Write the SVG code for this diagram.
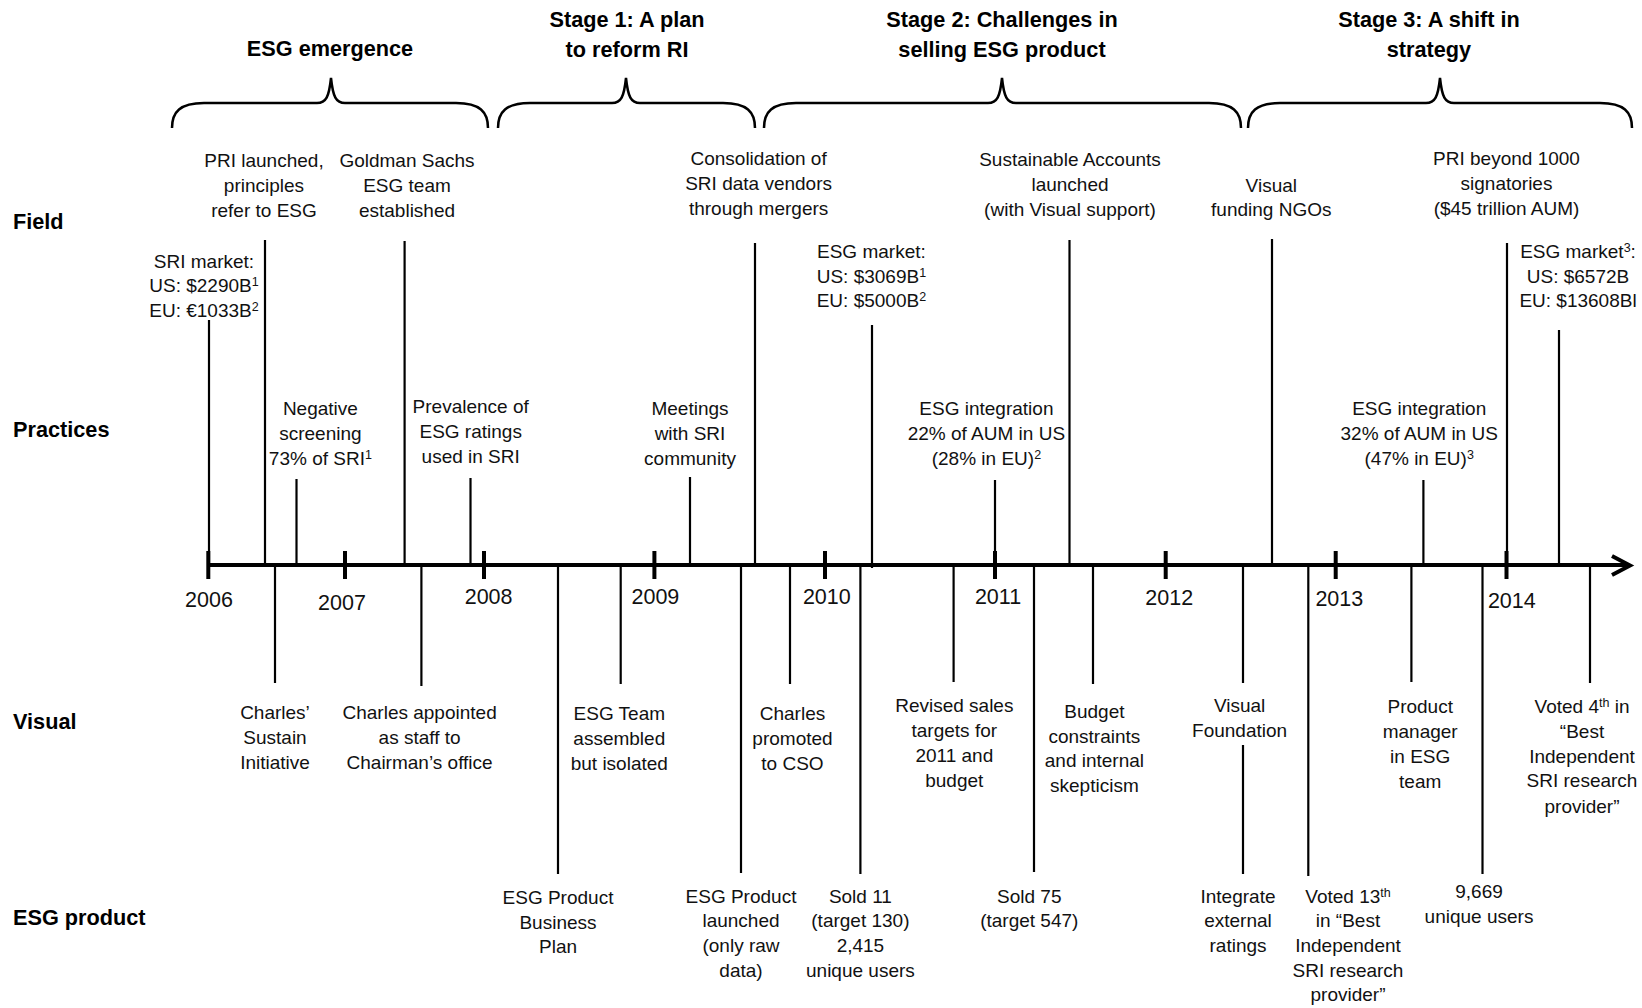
<svg xmlns="http://www.w3.org/2000/svg" width="1642" height="1008" viewBox="0 0 1642 1008">
<defs>
<style>
.h{font-family:"Liberation Sans",Arial,sans-serif;font-weight:bold;font-size:21.7px;fill:#000}
.s{font-family:"Liberation Sans",Arial,sans-serif;font-weight:bold;font-size:21.7px;fill:#000;text-anchor:middle}
.t{font-family:"Liberation Sans",Arial,sans-serif;font-size:19px;fill:#111;text-anchor:middle}
.y{font-family:"Liberation Sans",Arial,sans-serif;font-size:21.5px;fill:#111;text-anchor:middle}
.sup{font-size:12.5px}
.c{stroke:#000;stroke-width:2.2;fill:none}
.ax{stroke:#000;stroke-width:4;fill:none}
.br{stroke:#000;stroke-width:2.5;fill:none}
</style>
</defs>
<rect width="1642" height="1008" fill="#fff"/>

<g id="row-headings">
<text class="h" x="13" y="229">Field</text>
<text class="h" x="13" y="437">Practices</text>
<text class="h" x="13" y="729">Visual</text>
<text class="h" x="13" y="925">ESG product</text>
</g>

<g id="stages">
<g id="stage-esg-emergence">
<text class="s" x="330" y="56">ESG emergence</text>
<path class="br" d="M172,128 C172,112 180,103 204,103 L317,103 C326,103 329,97 331,78 C333,97 336,103 345,103 L456,103 C480,103 488,112 488,128"/>
</g>
<g id="stage-1">
<text class="s" x="627" y="27">Stage 1: A plan</text>
<text class="s" x="627" y="57">to reform RI</text>
<path class="br" d="M498,128 C498,112 506,103 530,103 L612,103 C621,103 624,97 626,78 C628,97 631,103 640,103 L723,103 C747,103 755,112 755,128"/>
</g>
<g id="stage-2">
<text class="s" x="1002" y="27">Stage 2: Challenges in</text>
<text class="s" x="1002" y="57">selling ESG product</text>
<path class="br" d="M764,128 C764,112 772,103 796,103 L988,103 C997,103 1000,97 1002,78 C1004,97 1007,103 1016,103 L1209,103 C1233,103 1241,112 1241,128"/>
</g>
<g id="stage-3">
<text class="s" x="1429" y="27">Stage 3: A shift in</text>
<text class="s" x="1429" y="57">strategy</text>
<path class="br" d="M1248,128 C1248,112 1256,103 1280,103 L1426,103 C1435,103 1438,97 1440,78 C1442,97 1445,103 1454,103 L1600,103 C1624,103 1632,112 1632,128"/>
</g>
</g>

<g id="timeline">
<line class="ax" x1="208" y1="565" x2="1628" y2="565"/>
<polyline class="ax" points="1612,556 1630,565.5 1612,575"/>
<g id="ticks">
<line class="ax" x1="208.3" y1="551" x2="208.3" y2="579"/>
<line class="ax" x1="345" y1="551" x2="345" y2="579"/>
<line class="ax" x1="484" y1="551" x2="484" y2="579"/>
<line class="ax" x1="654.4" y1="551" x2="654.4" y2="579"/>
<line class="ax" x1="825" y1="551" x2="825" y2="579"/>
<line class="ax" x1="995" y1="551" x2="995" y2="579"/>
<line class="ax" x1="1165.7" y1="551" x2="1165.7" y2="579"/>
<line class="ax" x1="1335.7" y1="551" x2="1335.7" y2="579"/>
<line class="ax" x1="1506.5" y1="551" x2="1506.5" y2="579"/>
</g>
<g id="years">
<text class="y" x="209" y="607">2006</text>
<text class="y" x="342" y="610">2007</text>
<text class="y" x="488.6" y="604">2008</text>
<text class="y" x="655.4" y="604">2009</text>
<text class="y" x="826.8" y="604">2010</text>
<text class="y" x="998" y="604">2011</text>
<text class="y" x="1169.2" y="605">2012</text>
<text class="y" x="1339.3" y="606">2013</text>
<text class="y" x="1511.8" y="608">2014</text>
</g>
</g>

<g id="connectors">
<line class="c" x1="209" y1="320" x2="209" y2="565"/>
<line class="c" x1="265" y1="240" x2="265" y2="565"/>
<line class="c" x1="296.5" y1="479" x2="296.5" y2="565"/>
<line class="c" x1="404.6" y1="241" x2="404.6" y2="565"/>
<line class="c" x1="470.5" y1="478" x2="470.5" y2="565"/>
<line class="c" x1="690" y1="477" x2="690" y2="565"/>
<line class="c" x1="755" y1="243" x2="755" y2="565"/>
<line class="c" x1="872" y1="325" x2="872" y2="568"/>
<line class="c" x1="995" y1="480" x2="995" y2="565"/>
<line class="c" x1="1069.5" y1="240" x2="1069.5" y2="565"/>
<line class="c" x1="1272" y1="239" x2="1272" y2="565"/>
<line class="c" x1="1423.4" y1="480" x2="1423.4" y2="565"/>
<line class="c" x1="1507" y1="243" x2="1507" y2="565"/>
<line class="c" x1="1559" y1="330" x2="1559" y2="565"/>
<line class="c" x1="275" y1="565" x2="275" y2="683"/>
<line class="c" x1="421.4" y1="565" x2="421.4" y2="686"/>
<line class="c" x1="558" y1="565" x2="558" y2="874"/>
<line class="c" x1="620.7" y1="565" x2="620.7" y2="684"/>
<line class="c" x1="741" y1="565" x2="741" y2="873"/>
<line class="c" x1="790" y1="565" x2="790" y2="684"/>
<line class="c" x1="860.4" y1="565" x2="860.4" y2="874"/>
<line class="c" x1="953.6" y1="565" x2="953.6" y2="682"/>
<line class="c" x1="1034" y1="565" x2="1034" y2="872"/>
<line class="c" x1="1093" y1="565" x2="1093" y2="684"/>
<line class="c" x1="1243" y1="565" x2="1243" y2="683"/>
<line class="c" x1="1243" y1="745" x2="1243" y2="874"/>
<line class="c" x1="1308.3" y1="565" x2="1308.3" y2="876"/>
<line class="c" x1="1411.4" y1="565" x2="1411.4" y2="682"/>
<line class="c" x1="1482.5" y1="565" x2="1482.5" y2="874"/>
<line class="c" x1="1590" y1="565" x2="1590" y2="683"/>
</g>

<g id="field-sri-market"><text class="t"><tspan x="204" y="268">SRI market:</tspan><tspan x="204" y="292">US: $2290B<tspan class="sup" dy="-6">1</tspan></tspan><tspan x="204" y="317">EU: €1033B<tspan class="sup" dy="-6">2</tspan></tspan></text></g>
<g id="field-pri-launched"><text class="t"><tspan x="264" y="167">PRI launched,</tspan><tspan x="264" y="192">principles</tspan><tspan x="264" y="217">refer to ESG</tspan></text></g>
<g id="field-goldman"><text class="t"><tspan x="407" y="167">Goldman Sachs</tspan><tspan x="407" y="192">ESG team</tspan><tspan x="407" y="217">established</tspan></text></g>
<g id="field-consolidation"><text class="t"><tspan x="758.6" y="165">Consolidation of</tspan><tspan x="758.6" y="190">SRI data vendors</tspan><tspan x="758.6" y="215">through mergers</tspan></text></g>
<g id="field-esg-market"><text class="t"><tspan x="871.4" y="258">ESG market:</tspan><tspan x="871.4" y="283">US: $3069B<tspan class="sup" dy="-6">1</tspan></tspan><tspan x="871.4" y="307">EU: $5000B<tspan class="sup" dy="-6">2</tspan></tspan></text></g>
<g id="field-sustainable"><text class="t"><tspan x="1070" y="166">Sustainable Accounts</tspan><tspan x="1070" y="191">launched</tspan><tspan x="1070" y="216">(with Visual support)</tspan></text></g>
<g id="field-visual-ngos"><text class="t"><tspan x="1271.3" y="192">Visual</tspan><tspan x="1271.3" y="216">funding NGOs</tspan></text></g>
<g id="field-pri-1000"><text class="t"><tspan x="1506.5" y="165">PRI beyond 1000</tspan><tspan x="1506.5" y="190">signatories</tspan><tspan x="1506.5" y="215">($45 trillion AUM)</tspan></text></g>
<g id="field-esg-market3"><text class="t"><tspan x="1578" y="258">ESG market<tspan class="sup" dy="-6">3</tspan><tspan dy="6">:</tspan></tspan><tspan x="1578" y="283">US: $6572B</tspan><tspan x="1578" y="307">EU: $13608Bl</tspan></text></g>

<g id="practice-negative"><text class="t"><tspan x="320.4" y="415">Negative</tspan><tspan x="320.4" y="440">screening</tspan><tspan x="320.4" y="465">73% of SRI<tspan class="sup" dy="-6">1</tspan></tspan></text></g>
<g id="practice-prevalence"><text class="t"><tspan x="470.7" y="413">Prevalence of</tspan><tspan x="470.7" y="438">ESG ratings</tspan><tspan x="470.7" y="463">used in SRI</tspan></text></g>
<g id="practice-meetings"><text class="t"><tspan x="690" y="415">Meetings</tspan><tspan x="690" y="440">with SRI</tspan><tspan x="690" y="465">community</tspan></text></g>
<g id="practice-integration-22"><text class="t"><tspan x="986.4" y="415">ESG integration</tspan><tspan x="986.4" y="440">22% of AUM in US</tspan><tspan x="986.4" y="465">(28% in EU)<tspan class="sup" dy="-6">2</tspan></tspan></text></g>
<g id="practice-integration-32"><text class="t"><tspan x="1419.2" y="415">ESG integration</tspan><tspan x="1419.2" y="440">32% of AUM in US</tspan><tspan x="1419.2" y="465">(47% in EU)<tspan class="sup" dy="-6">3</tspan></tspan></text></g>

<g id="visual-sustain"><text class="t"><tspan x="275" y="719">Charles’</tspan><tspan x="275" y="744">Sustain</tspan><tspan x="275" y="769">Initiative</tspan></text></g>
<g id="visual-appointed"><text class="t"><tspan x="419.6" y="719">Charles appointed</tspan><tspan x="419.6" y="744">as staff to</tspan><tspan x="419.6" y="769">Chairman’s office</tspan></text></g>
<g id="visual-esg-team"><text class="t"><tspan x="619.3" y="720">ESG Team</tspan><tspan x="619.3" y="745">assembled</tspan><tspan x="619.3" y="770">but isolated</tspan></text></g>
<g id="visual-promoted"><text class="t"><tspan x="792.5" y="720">Charles</tspan><tspan x="792.5" y="745">promoted</tspan><tspan x="792.5" y="770">to CSO</tspan></text></g>
<g id="visual-revised"><text class="t"><tspan x="954.3" y="712">Revised sales</tspan><tspan x="954.3" y="737">targets for</tspan><tspan x="954.3" y="762">2011 and</tspan><tspan x="954.3" y="787">budget</tspan></text></g>
<g id="visual-budget"><text class="t"><tspan x="1094.4" y="718">Budget</tspan><tspan x="1094.4" y="743">constraints</tspan><tspan x="1094.4" y="767">and internal</tspan><tspan x="1094.4" y="792">skepticism</tspan></text></g>
<g id="visual-foundation"><text class="t"><tspan x="1239.6" y="712">Visual</tspan><tspan x="1239.6" y="737">Foundation</tspan></text></g>
<g id="visual-product-manager"><text class="t"><tspan x="1420.2" y="713">Product</tspan><tspan x="1420.2" y="738">manager</tspan><tspan x="1420.2" y="763">in ESG</tspan><tspan x="1420.2" y="788">team</tspan></text></g>
<g id="visual-voted-4th"><text class="t"><tspan x="1582" y="713">Voted 4<tspan class="sup" dy="-6">th</tspan><tspan dy="6"> in</tspan></tspan><tspan x="1582" y="738">“Best</tspan><tspan x="1582" y="763">Independent</tspan><tspan x="1582" y="787">SRI research</tspan><tspan x="1582" y="813">provider”</tspan></text></g>

<g id="product-business-plan"><text class="t"><tspan x="558" y="904">ESG Product</tspan><tspan x="558" y="929">Business</tspan><tspan x="558" y="953">Plan</tspan></text></g>
<g id="product-launched"><text class="t"><tspan x="741" y="903">ESG Product</tspan><tspan x="741" y="927">launched</tspan><tspan x="741" y="952">(only raw</tspan><tspan x="741" y="977">data)</tspan></text></g>
<g id="product-sold-11"><text class="t"><tspan x="860.4" y="903">Sold 11</tspan><tspan x="860.4" y="927">(target 130)</tspan><tspan x="860.4" y="952">2,415</tspan><tspan x="860.4" y="977">unique users</tspan></text></g>
<g id="product-sold-75"><text class="t"><tspan x="1029.3" y="903">Sold 75</tspan><tspan x="1029.3" y="927">(target 547)</tspan></text></g>
<g id="product-integrate"><text class="t"><tspan x="1238" y="903">Integrate</tspan><tspan x="1238" y="927">external</tspan><tspan x="1238" y="952">ratings</tspan></text></g>
<g id="product-voted-13th"><text class="t"><tspan x="1348" y="903">Voted 13<tspan class="sup" dy="-6">th</tspan></tspan><tspan x="1348" y="927">in “Best</tspan><tspan x="1348" y="952">Independent</tspan><tspan x="1348" y="977">SRI research</tspan><tspan x="1348" y="1001">provider”</tspan></text></g>
<g id="product-9669"><text class="t"><tspan x="1479" y="898">9,669</tspan><tspan x="1479" y="923">unique users</tspan></text></g>
</svg>
